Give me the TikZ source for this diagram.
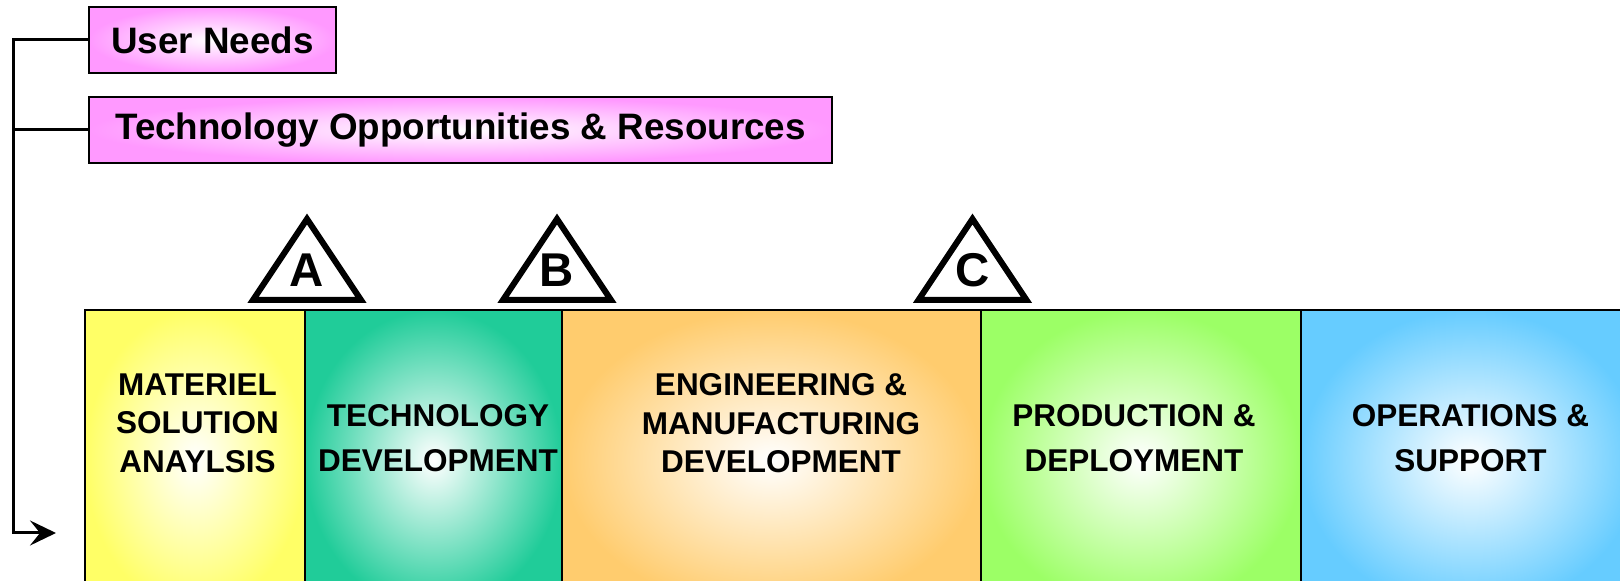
\documentclass[tikz,border=0pt]{standalone}
\usepackage{fontspec}
\setmainfont{Liberation Sans}
\usetikzlibrary{calc,arrows.meta}
\definecolor{needscol}{HTML}{FF99FF}
\definecolor{msacol}{HTML}{FFFF66}
\definecolor{tdcol}{HTML}{20CC99}
\definecolor{emdcol}{HTML}{FFCC6E}
\definecolor{pdcol}{HTML}{9CFF66}
\definecolor{oscol}{HTML}{66CCFF}
\tikzset{
  needs/.style={draw=black, line width=1pt, inner color=white, outer color=needscol,
    minimum height=33pt, inner sep=0pt, font=\bfseries\fontsize{18.4}{22}\selectfont},
  phasetext/.style={align=center, inner sep=0pt, font=\bfseries\fontsize{15.75}{#1}\selectfont},
  phasetext/.default=19.25,
  conn/.style={line width=1.5pt},
  tri/.style={draw=black, fill=white, line width=3pt, line join=miter},
  letter/.style={inner sep=0pt, font=\bfseries\fontsize{23.7}{28}\selectfont}
}
\newcommand{\milestone}[2]{
  \draw[tri] #2 -- ++(54,81) -- ++(-108,0) -- cycle;
  \node[letter] (ms#1) at ($ #2 + (0,51) $) {#1};
}

\begin{document}
\begin{tikzpicture}[x=0.5pt,y=-0.5pt]
  \useasboundingbox (0,0) rectangle (1620,581);
  % inputs
  \node[needs, minimum width=123.5pt] (un) at (212.5,40) {User Needs};
  \node[needs, minimum width=371.5pt] (tor) at (460.5,130) {Technology Opportunities \& Resources};
  \coordinate (spine) at (13,0);
  \coordinate (inlet) at (56,533);
  \draw[conn, -{Stealth[length=13pt,width=12.5pt,inset=5pt]}] (un.west) -- (un.west -| spine) |- (inlet);
  \draw[conn] (tor.west) -- (tor.west -| spine);
  % phases
  \foreach \l/\r/\c in {85/305/msacol, 305/562/tdcol, 562/981/emdcol, 981/1301/pdcol, 1301/1640/oscol}
    \shade[draw=black, line width=1.2pt, inner color=white, outer color=\c] (\l,310) rectangle (\r,610);
  \node[phasetext] (msa) at (197.5,423) {MATERIEL\\SOLUTION\\ANAYLSIS};
  \node[phasetext=22.5] (td) at (438,438.5) {TECHNOLOGY\\DEVELOPMENT};
  \node[phasetext] (emd) at (781,423.5) {ENGINEERING \&\\MANUFACTURING\\DEVELOPMENT};
  \node[phasetext=22.5] (pd) at (1134,438.5) {PRODUCTION \&\\DEPLOYMENT};
  \node[phasetext=22.5] (os) at (1470.5,438.5) {OPERATIONS \&\\SUPPORT};
  % milestones
  \milestone{A}{(307,219)}
  \milestone{B}{(557,219)}
  \milestone{C}{(972.5,219)}
\end{tikzpicture}
\end{document}
